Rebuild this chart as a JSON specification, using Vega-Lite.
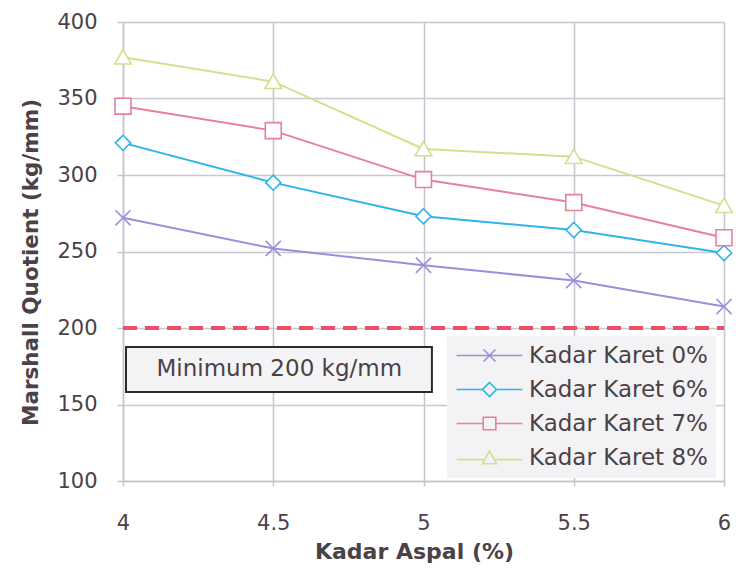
{
  "$schema": "https://vega.github.io/schema/vega-lite/v6.json",
  "width": 601,
  "height": 459,
  "autosize": {"type": "none"},
  "padding": {"left": 123, "top": 22, "right": 12, "bottom": 87},
  "background": "white",
  "config": {
    "font": "DejaVu Sans",
    "view": {"stroke": null},
    "axis": {
      "labelFont": "DejaVu Sans",
      "labelFontSize": 21,
      "labelColor": "#4b4146",
      "titleFont": "DejaVu Sans",
      "titleFontWeight": "bold",
      "titleColor": "#4b4146",
      "domainColor": "#c4c4ce",
      "domainWidth": 1.5,
      "tickColor": "#c4c4ce",
      "tickWidth": 1.5,
      "gridWidth": 1.5
    }
  },
  "datasets": {
    "quotient": [
      {"aspal": 4.0, "mq": 272, "series": "Kadar Karet 0%"},
      {"aspal": 4.5, "mq": 252, "series": "Kadar Karet 0%"},
      {"aspal": 5.0, "mq": 241, "series": "Kadar Karet 0%"},
      {"aspal": 5.5, "mq": 231, "series": "Kadar Karet 0%"},
      {"aspal": 6.0, "mq": 214, "series": "Kadar Karet 0%"},
      {"aspal": 4.0, "mq": 321, "series": "Kadar Karet 6%"},
      {"aspal": 4.5, "mq": 295, "series": "Kadar Karet 6%"},
      {"aspal": 5.0, "mq": 273, "series": "Kadar Karet 6%"},
      {"aspal": 5.5, "mq": 264, "series": "Kadar Karet 6%"},
      {"aspal": 6.0, "mq": 249, "series": "Kadar Karet 6%"},
      {"aspal": 4.0, "mq": 345, "series": "Kadar Karet 7%"},
      {"aspal": 4.5, "mq": 329, "series": "Kadar Karet 7%"},
      {"aspal": 5.0, "mq": 297, "series": "Kadar Karet 7%"},
      {"aspal": 5.5, "mq": 282, "series": "Kadar Karet 7%"},
      {"aspal": 6.0, "mq": 259, "series": "Kadar Karet 7%"},
      {"aspal": 4.0, "mq": 377, "series": "Kadar Karet 8%"},
      {"aspal": 4.5, "mq": 361, "series": "Kadar Karet 8%"},
      {"aspal": 5.0, "mq": 317, "series": "Kadar Karet 8%"},
      {"aspal": 5.5, "mq": 312, "series": "Kadar Karet 8%"},
      {"aspal": 6.0, "mq": 280, "series": "Kadar Karet 8%"}
    ],
    "minimum": [
      {"limit": 200, "note": "Minimum 200 kg/mm"}
    ]
  },
  "layer": [
    {
      "data": {"name": "quotient"},
      "layer": [
        {
          "mark": {"type": "line", "strokeWidth": 2},
          "encoding": {
            "color": {
              "field": "series",
              "type": "nominal",
              "scale": {
                "domain": ["Kadar Karet 0%", "Kadar Karet 6%", "Kadar Karet 7%", "Kadar Karet 8%"],
                "range": ["#9a8fdc", "#2db4e8", "#e8809c", "#d3e08c"]
              },
              "legend": {
                "title": null,
                "orient": "none",
                "legendX": 324,
                "legendY": 314,
                "fillColor": "#f3f3f5",
                "padding": 8,
                "labelFont": "DejaVu Sans",
                "labelFontSize": 23,
                "labelColor": "#4b4146",
                "labelLimit": 300,
                "rowPadding": 10,
                "symbolSize": 196,
                "symbolOffset": 23,
                "labelOffset": 28,
                "symbolStrokeWidth": 1.6,
                "encode": {
                  "symbols": {
                    "update": {
                      "fill": {"value": "transparent"},
                      "strokeWidth": {"value": 1.6},
                      "shape": {"signal": "datum.value === 'Kadar Karet 0%' ? 'M-4.7,0H4.7M-0.85,-0.85L0.85,0.85M-0.85,0.85L0.85,-0.85' : datum.value === 'Kadar Karet 6%' ? 'M-4.7,0H-1M1,0H4.7M0,-1L1,0L0,1L-1,0Z' : datum.value === 'Kadar Karet 7%' ? 'M-4.7,0H-0.9M0.9,0H4.7M-0.9,-0.9H0.9V0.9H-0.9Z' : 'M-4.7,0.3H-0.7M0.7,0.3H4.7M0,-0.9L1,0.9H-1Z'"}
                    }
                  }
                }
              }
            }
          }
        },
        {
          "transform": [{"filter": "datum.series === 'Kadar Karet 0%'"}],
          "mark": {"type": "point", "filled": true, "fill": "white", "stroke": "#9a8fdc", "strokeWidth": 1.6, "size": 230, "opacity": 1, "shape": "M-1,-1L1,1M-1,1L1,-1"}
        },
        {
          "transform": [{"filter": "datum.series === 'Kadar Karet 6%'"}],
          "mark": {"type": "point", "filled": true, "fill": "white", "stroke": "#2db4e8", "strokeWidth": 1.6, "size": 230, "opacity": 1, "shape": "M0,-1L1,0L0,1L-1,0Z"}
        },
        {
          "transform": [{"filter": "datum.series === 'Kadar Karet 7%'"}],
          "mark": {"type": "point", "filled": true, "fill": "white", "stroke": "#e8809c", "strokeWidth": 1.6, "size": 230, "opacity": 1, "shape": "M-1.05,-1.05H1.05V1.05H-1.05Z"}
        },
        {
          "transform": [{"filter": "datum.series === 'Kadar Karet 8%'"}],
          "mark": {"type": "point", "filled": true, "fill": "white", "stroke": "#d3e08c", "strokeWidth": 1.6, "size": 230, "opacity": 1, "shape": "M0,-1L1.1,0.9H-1.1Z"}
        }
      ],
      "encoding": {
        "x": {
          "field": "aspal",
          "type": "quantitative",
          "scale": {"domain": [4, 6], "nice": false, "zero": false},
          "axis": {
            "title": "Kadar Aspal (%)",
            "titleFontSize": 22,
            "titlePadding": 8,
            "titleX": 291,
            "values": [4, 4.5, 5, 5.5, 6],
            "format": "~g",
            "labelFlush": false,
            "labelPadding": 26,
            "tickSize": 5,
            "grid": true,
            "gridColor": "#c4c4ce"
          }
        },
        "y": {
          "field": "mq",
          "type": "quantitative",
          "scale": {"domain": [100, 400], "nice": false, "zero": false},
          "axis": {
            "title": "Marshall Quotient (kg/mm)",
            "titleFontSize": 21.5,
            "titlePadding": 14,
            "titleY": 240,
            "values": [100, 125, 150, 175, 200, 225, 250, 275, 300, 325, 350, 375, 400],
            "labelExpr": "datum.value % 50 === 0 ? datum.label : ''",
            "labelPadding": 20,
            "tickSize": 6,
            "tickOpacity": {"condition": {"test": "datum.value % 50 === 0", "value": 1}, "value": 0},
            "grid": true,
            "gridColor": {"condition": {"test": "datum.value % 50 === 0", "value": "#c8c8d2"}, "value": "#e4e4ea"}
          }
        }
      }
    },
    {
      "data": {"name": "minimum"},
      "mark": {"type": "rect", "fill": "#f4f4f6", "stroke": "#2b2b2e", "strokeWidth": 2},
      "encoding": {
        "x": {"datum": 4.01, "type": "quantitative"},
        "x2": {"datum": 5.028},
        "y": {"datum": 187.6, "type": "quantitative"},
        "y2": {"datum": 158.2}
      }
    },
    {
      "data": {"name": "minimum"},
      "mark": {"type": "text", "fontSize": 23, "color": "#4b4146", "font": "DejaVu Sans"},
      "encoding": {
        "x": {"datum": 4.52, "type": "quantitative"},
        "y": {"datum": 173, "type": "quantitative"},
        "text": {"field": "note"}
      }
    },
    {
      "data": {"name": "minimum"},
      "mark": {"type": "rule", "color": "#f04c6c", "strokeWidth": 4, "strokeDash": [14, 8]},
      "encoding": {
        "x": {"datum": 4, "type": "quantitative"},
        "x2": {"datum": 6},
        "y": {"field": "limit", "type": "quantitative"}
      }
    }
  ]
}
